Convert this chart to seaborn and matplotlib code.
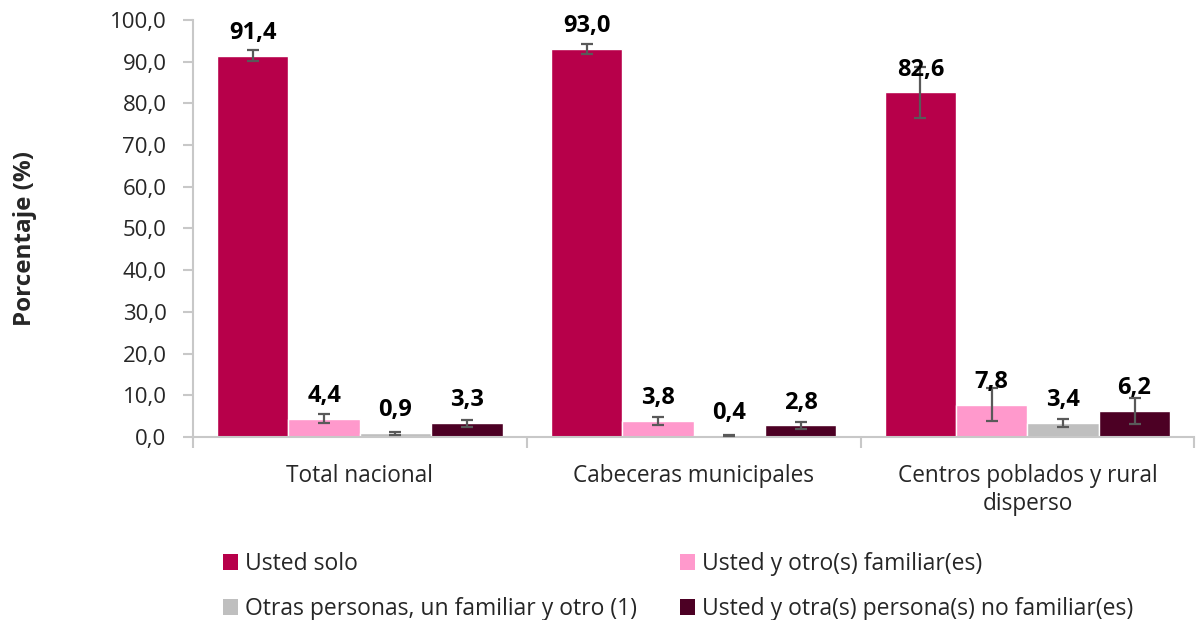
import matplotlib
matplotlib.use("Agg")
import matplotlib.pyplot as plt
import seaborn as sns
import pandas as pd
from matplotlib.patches import Patch
from matplotlib.ticker import FuncFormatter, MultipleLocator, FixedLocator

# Datos
categorias = ["Total nacional", "Cabeceras municipales", "Centros poblados y rural\ndisperso"]
series = [
    "Usted solo",
    "Usted y otro(s) familiar(es)",
    "Otras personas, un familiar y otro (1)",
    "Usted y otra(s) persona(s) no familiar(es)",
]
usted_solo = [91.4, 93.0, 82.6]
otro_familiar = [4.4, 3.8, 7.8]
otras_personas = [0.9, 0.4, 3.4]
no_familiar = [3.3, 2.8, 6.2]

err_usted_solo = [1.3, 1.3, 6.1]
err_otro_familiar = [1.1, 0.9, 3.9]
err_otras_personas = [0.3, 0.2, 0.95]
err_no_familiar = [0.9, 0.8, 3.1]

colores = ["#B7004A", "#FF99CC", "#BFBFBF", "#4C0024"]

valores = [usted_solo, otro_familiar, otras_personas, no_familiar]
errores = [err_usted_solo, err_otro_familiar, err_otras_personas, err_no_familiar]

filas = []
for s, vals, errs in zip(series, valores, errores):
    for c, v, e in zip(categorias, vals, errs):
        filas.append({"categoria": c, "serie": s, "valor": v, "error": e})
df = pd.DataFrame(filas)

sns.set_style("white")
plt.rcParams["font.family"] = ["Open Sans", "DejaVu Sans"]

fig = plt.figure(figsize=(11.98, 6.2), dpi=100)
ax = fig.add_axes([0.161, 0.295, 0.836, 0.673])

sns.barplot(
    data=df, x="categoria", y="valor", hue="serie",
    order=categorias, hue_order=series, palette=colores,
    errorbar=None, width=0.855, saturation=1, ax=ax, legend=False,
)

# Barras de error y etiquetas
for container, s in zip(ax.containers, series):
    sub = df[df["serie"] == s].set_index("categoria").loc[categorias]
    for bar, v, e in zip(container, sub["valor"], sub["error"]):
        xc = bar.get_x() + bar.get_width() / 2
        ax.errorbar(xc, v, yerr=e, fmt="none", ecolor="#595959",
                    elinewidth=1.6, capsize=4.5, capthick=1.6, zorder=3)
        ax.annotate(f"{v:.1f}".replace(".", ","), (xc, v), xytext=(0, 16.5),
                    textcoords="offset points", ha="center", va="center",
                    fontsize=17, fontweight="bold", color="black", zorder=4)

ax.set_ylim(0, 100)
ax.set_xlim(-0.5, len(categorias) - 0.5)
ax.yaxis.set_major_locator(MultipleLocator(10))
ax.yaxis.set_major_formatter(FuncFormatter(lambda v, p: f"{v:.1f}".replace(".", ",")))
ax.xaxis.set_minor_locator(FixedLocator([-0.5, 0.5, 1.5, 2.5]))

for side in ["top", "right"]:
    ax.spines[side].set_visible(False)
for side in ["left", "bottom"]:
    ax.spines[side].set_color("#C8C8C8")
    ax.spines[side].set_linewidth(1.5)

ax.tick_params(axis="y", which="major", left=True, length=7, width=1.5,
               color="#C8C8C8", labelsize=16, pad=12)
ax.tick_params(axis="x", which="major", bottom=False, labelsize=16.3, pad=16)
ax.tick_params(axis="x", which="minor", bottom=True, length=8, width=1.5,
               color="#C8C8C8")

ax.set_xlabel("")
ax.set_ylabel("Porcentaje (%)", fontsize=17.5, fontweight="bold", va="center", ha="center")
ax.yaxis.set_label_coords(-0.168, 0.477)

# Leyenda en orden por filas
orden = [0, 2, 1, 3]
handles = [Patch(facecolor=colores[i], edgecolor="none") for i in orden]
etiquetas = [series[i] for i in orden]
fig.legend(handles, etiquetas, loc="upper left", bbox_to_anchor=(0.1785, 0.125),
           ncol=2, frameon=False, fontsize=16.5, handlelength=0.65,
           handleheight=0.7, handletextpad=0.3, columnspacing=1.9,
           labelspacing=0.94, borderaxespad=0)

fig.savefig("out.png", dpi=100)
